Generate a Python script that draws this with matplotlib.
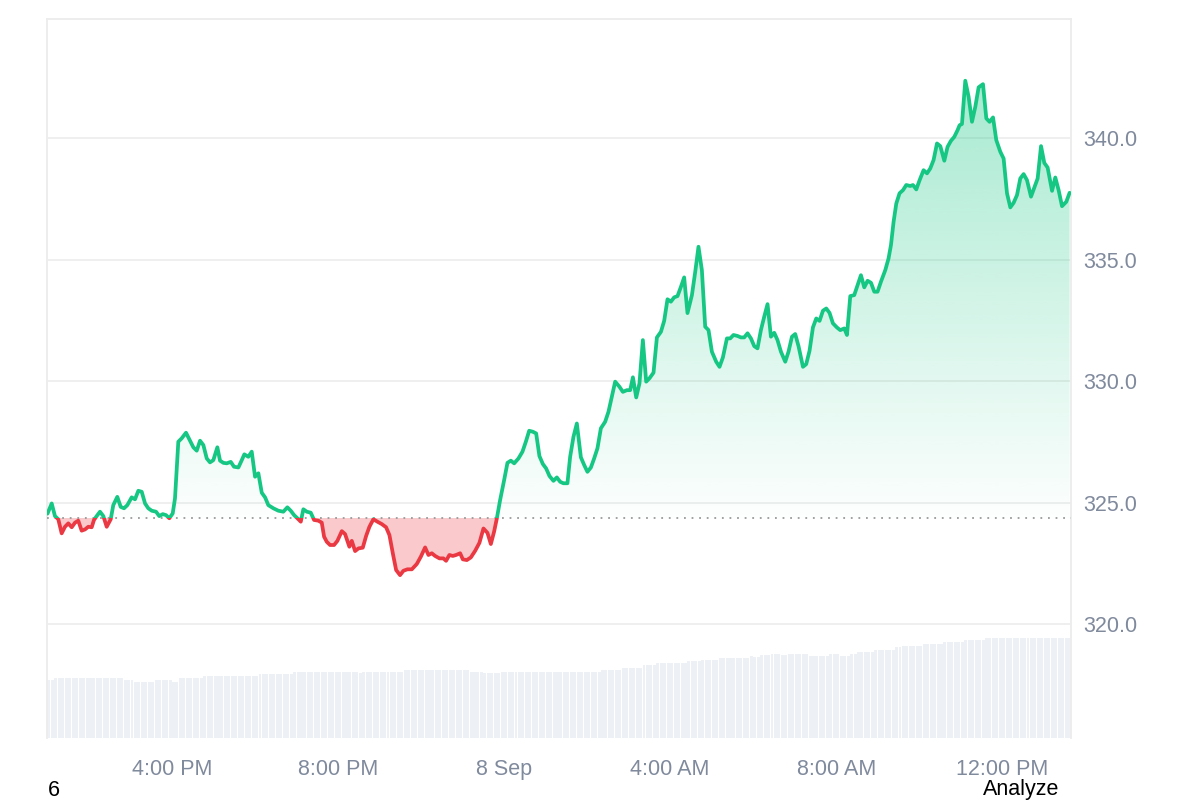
import numpy as np
import matplotlib
matplotlib.use("Agg")
import matplotlib.pyplot as plt
from matplotlib.patches import Rectangle
from matplotlib.colors import to_rgb

plt.rcParams['font.family'] = ['Liberation Sans', 'DejaVu Sans']

# ---------------- data ----------------
# minutes since 7 Sep 13:00
minutes = [
    0.0, 6.1, 10.8, 15.6, 20.5, 25.3, 30.1, 35.0, 39.8, 44.5,
    49.4, 54.2, 59.0, 63.9, 67.2, 71.1, 75.9, 80.7, 85.6, 91.4,
    95.1, 100.9, 105.8, 110.6, 115.4, 121.7, 126.5, 131.3, 136.2, 141.0,
    145.7, 150.7, 156.9, 161.6, 166.6, 171.3, 176.1, 181.0, 184.3, 189.1,
    194.0, 200.2, 206.0, 210.8, 215.7, 220.5, 225.3, 230.2, 234.9, 239.7,
    245.5, 249.4, 254.2, 259.1, 264.9, 269.6, 275.9, 280.8, 284.5, 290.3,
    295.2, 300.0, 304.8, 309.7, 314.5, 319.2, 326.5, 333.7,
    340.9, 346.7, 351.6, 356.4, 361.2, 366.1, 369.8, 374.8, 380.5, 385.3,
    391.5, 396.4, 399.8, 403.7, 408.4, 414.2, 419.0, 425.4, 430.1, 436.3,
    439.8, 444.6, 449.4, 455.7, 460.5, 465.3, 471.0, 476.8, 483.2, 489.4,
    494.2, 499.1, 503.9, 509.6, 514.4, 520.2, 526.6, 533.8, 539.6, 545.8,
    550.6, 555.5, 560.2, 566.5, 572.2, 576.1, 580.9, 585.8, 590.6, 596.4,
    600.3, 606.1, 611.9, 618.1, 624.3, 630.1, 635.9, 640.8, 645.5, 649.5,
    654.2,
    660.0, 664.8, 669.7, 674.5, 680.7, 686.5, 691.4, 696.2, 701.5, 706.3,
    711.0, 716.0, 720.7, 725.5, 731.3, 736.2, 741.0, 745.7, 751.5, 755.4,
    760.2, 765.1, 770.9, 775.7, 780.4, 785.4, 790.1, 794.9, 799.8, 806.0,
    810.8, 815.7, 820.5, 826.7, 831.6, 837.4, 842.2, 846.1, 850.9, 855.6,
    860.5, 865.3, 870.1, 875.9, 880.8, 886.6, 891.3, 896.1, 901.0, 905.8,
    910.6, 915.5, 920.2, 925.0, 931.4, 936.2, 940.9, 945.8, 950.6, 955.4,
    960.3, 966.5, 971.3, 976.2, 982.0, 986.8, 991.5, 997.3, 1002.2, 1007.0,
    1011.8, 1016.7, 1021.5, 1026.2, 1031.1, 1035.9, 1040.7, 1045.6, 1050.4, 1055.1,
    1060.1, 1066.3, 1071.0, 1076.0, 1080.7, 1085.5, 1091.9, 1096.6, 1101.4, 1106.3,
    1111.1, 1115.9, 1120.8, 1125.6, 1130.3, 1135.2, 1141.0, 1145.8, 1151.6, 1155.5,
    1160.3, 1166.0, 1170.8, 1175.7, 1180.5, 1185.3, 1190.2, 1195.0, 1199.7, 1204.6,
    1210.9, 1215.6, 1219.1, 1222.9, 1226.8, 1231.5, 1236.5, 1241.2, 1247.0, 1250.9,
    1255.7, 1260.5, 1266.2, 1271.2, 1275.9, 1280.7, 1285.6, 1290.4, 1296.2, 1300.9,
    1305.8, 1310.6, 1315.4, 1318.3, 1321.7, 1326.5, 1331.3, 1336.2, 1341.0, 1345.8,
    1352.1, 1356.9, 1361.6, 1366.6, 1371.3, 1377.1, 1381.9, 1386.8, 1391.6, 1396.4,
    1401.3, 1406.0, 1410.8, 1415.7, 1421.5, 1426.3, 1431.1, 1436.0, 1440.7, 1445.5,
    1451.9, 1456.6, 1461.4, 1466.3, 1472.5, 1477.3,
]
price = [
    324.55, 324.97, 324.45, 324.32, 323.74, 324.01, 324.15, 323.99, 324.18, 324.26,
    323.85, 323.90, 324.01, 323.99, 324.29, 324.45, 324.63, 324.45, 324.01, 324.32,
    324.90, 325.24, 324.83, 324.77, 324.90, 325.22, 325.14, 325.49, 325.45, 324.97,
    324.77, 324.67, 324.63, 324.45, 324.53, 324.49, 324.36, 324.56, 325.18, 327.51,
    327.65, 327.88, 327.55, 327.28, 327.14, 327.55, 327.37, 326.82, 326.66, 326.75,
    327.28, 326.73, 326.64, 326.62, 326.68, 326.48, 326.45, 326.75, 326.99, 326.89,
    327.10, 326.07, 326.21, 325.41, 325.22, 324.90, 324.77, 324.67,
    324.63, 324.81, 324.67, 324.49, 324.36, 324.22, 324.73, 324.63, 324.59, 324.29,
    324.26, 324.18, 323.60, 323.39, 323.26, 323.26, 323.43, 323.83, 323.71, 323.19,
    323.43, 323.01, 323.12, 323.15, 323.63, 324.01, 324.32, 324.22, 324.12, 323.99,
    323.67, 322.92, 322.23, 322.02, 322.20, 322.26, 322.26, 322.48, 322.78, 323.16,
    322.85, 322.92, 322.81, 322.71, 322.71, 322.61, 322.85, 322.81, 322.85, 322.92,
    322.67, 322.64, 322.75, 323.02, 323.35, 323.94, 323.76, 323.30, 323.81, 324.36,
    325.11,
    325.93, 326.64, 326.73, 326.62, 326.82, 327.10, 327.51, 327.96, 327.92, 327.85,
    326.92, 326.59, 326.41, 326.10, 325.90, 326.04, 325.86, 325.80, 325.80, 326.89,
    327.71, 328.26, 326.87, 326.55, 326.27, 326.45, 326.82, 327.24, 328.06, 328.33,
    328.74, 329.36, 329.98, 329.77, 329.56, 329.63, 329.63, 330.16, 329.33, 329.91,
    331.69, 329.98, 330.12, 330.35, 331.80, 332.03, 332.48, 333.37, 333.27, 333.45,
    333.50, 333.88, 334.27, 332.80, 333.54, 334.50, 335.53, 334.57, 332.24, 332.10,
    331.21, 330.80, 330.59, 330.98, 331.76, 331.76, 331.90, 331.86, 331.80, 331.80,
    331.97, 331.76, 331.44, 331.35, 332.10, 332.65, 333.17, 331.83, 331.99, 331.69,
    331.21, 330.80, 331.21, 331.83, 331.94, 331.44, 330.59, 330.70, 331.25, 332.21,
    332.58, 332.48, 332.90, 332.99, 332.81, 332.38, 332.21, 332.10, 332.17, 331.90,
    333.50, 333.54, 333.95, 334.36, 333.86, 334.13, 334.05, 333.68, 333.68, 334.09,
    334.57, 335.05, 335.60, 336.56, 337.31, 337.73, 337.86, 338.07, 338.03, 338.07,
    337.89, 338.27, 338.68, 338.55, 338.75, 339.10, 339.78, 339.67, 339.07, 339.64,
    339.89, 340.05, 340.33, 340.53, 340.58, 342.36, 341.70, 340.67, 341.29, 342.09,
    342.22, 340.81, 340.67, 340.85, 339.92, 339.44, 339.16, 337.73, 337.15, 337.34,
    337.66, 338.34, 338.52, 338.27, 337.59, 337.97, 338.34, 339.67, 338.98, 338.79,
    337.83, 338.38, 337.86, 337.20, 337.38, 337.75,
]
baseline = 324.37

# volume (5-minute bars): level and how many consecutive bars share it
vol_levels = [1.17, 1.21, 1.17, 1.13, 1.17, 1.13, 1.21, 1.25, 1.29, 1.33,
              1.30, 1.33, 1.37, 1.33, 1.30, 1.33,
              1.37, 1.41, 1.46, 1.50, 1.54, 1.57, 1.61, 1.65, 1.62, 1.67,
              1.69, 1.67, 1.69, 1.65, 1.69, 1.65, 1.69, 1.73, 1.77, 1.82,
              1.85, 1.89, 1.93, 1.97, 2.01]
vol_counts = [2, 20, 3, 6, 5, 2, 7, 16, 10, 19,
              1, 12, 19, 4, 5, 29,
              6, 6, 4, 9, 4, 5, 9, 1, 2, 3,
              3, 2, 6, 6, 3, 3, 2, 5, 6, 2,
              6, 6, 6, 6, 25]
vol_step = 5  # minutes per volume bar

y_ticks = [320, 325, 330, 335, 340]
x_ticks = [180, 420, 660, 900, 1140, 1380]
x_labels = ['4:00 PM', '8:00 PM', '8 Sep', '4:00 AM', '8:00 AM', '12:00 PM']

GREEN = '#16c784'
RED = '#ea3943'
TXT = '#808a9d'
FRAME = '#ececec'
GRID = '#efefef'

t = np.array(minutes)
p = np.array(price)
volume = np.repeat(vol_levels, vol_counts)

XMIN, XMAX = -0.7, 1479.3
YMIN, YMAX = 315.32, 344.9

fig = plt.figure(figsize=(12, 8), dpi=100)
rect = [47 / 1200, 62 / 800, (1071 - 47) / 1200, 719 / 800]

# volume pane (behind)
vax = fig.add_axes(rect, zorder=1)
vax.bar(np.arange(len(volume)) * vol_step, volume, width=vol_step * 0.86,
        align='edge', color='#edf0f4', linewidth=0)
vax.set_xlim(XMIN, XMAX)
vax.set_ylim(0, 719 / 50)
vax.axis('off')

# price pane
ax = fig.add_axes(rect, zorder=2)
ax.patch.set_visible(False)

for yv in y_ticks:
    ax.axhline(yv, color=GRID, lw=1.4, zorder=0)

# green gradient fill above baseline
n = 256
rgba = np.zeros((n, 1, 4))
rgba[..., :3] = to_rgb(GREEN)
rgba[..., 3] = np.linspace(0.43, 0.01, n)[:, None]
im = ax.imshow(rgba, extent=[XMIN, XMAX, baseline, YMAX], aspect='auto',
               origin='upper', interpolation='bilinear', zorder=1)
poly = ax.fill_between(t, p, baseline, facecolor='none', edgecolor='none')
im.set_clip_path(poly.get_paths()[0], transform=ax.transData)

# red fill below baseline
ax.fill_between(t, p, baseline, where=p < baseline, interpolate=True,
                color=RED, alpha=0.27, linewidth=0, zorder=1)

# baseline dotted
ax.axhline(baseline, color='#9a9a9a', lw=1.3, linestyle=(0, (1, 3.2)), zorder=3)

# price line, coloured by side of baseline
ln_g, = ax.plot(t, p, color=GREEN, lw=2.7, solid_joinstyle='round',
                solid_capstyle='round', zorder=4)
ln_r, = ax.plot(t, p, color=RED, lw=2.7, solid_joinstyle='round',
                solid_capstyle='round', zorder=4)
clip_up = Rectangle((XMIN, baseline), XMAX - XMIN, YMAX - baseline, transform=ax.transData)
clip_dn = Rectangle((XMIN, YMIN), XMAX - XMIN, baseline - YMIN, transform=ax.transData)
ln_g.set_clip_path(clip_up)
ln_r.set_clip_path(clip_dn)

ax.set_xlim(XMIN, XMAX)
ax.set_ylim(YMIN, YMAX)

for side in ['left', 'top', 'right']:
    ax.spines[side].set_color(FRAME)
    ax.spines[side].set_linewidth(1.3)
ax.spines['bottom'].set_visible(False)

ax.yaxis.tick_right()
ax.set_yticks(y_ticks)
ax.set_yticklabels([f'{v:.1f}' for v in y_ticks])
ax.set_xticks(x_ticks)
ax.set_xticklabels(x_labels)
ax.tick_params(axis='y', length=0, pad=8.5, labelsize=15.5, labelcolor=TXT)
ax.tick_params(axis='x', length=0, pad=15, labelsize=15.5, labelcolor=TXT)

fig.text(48 / 1200, 1 - 795.5 / 800, '6', fontsize=15.5, color='#000000',
         ha='left', va='baseline')
fig.text(982.5 / 1200, 1 - 795.5 / 800, 'Analyze', fontsize=15.5, color='#000000',
         ha='left', va='baseline')

fig.savefig('out.png', dpi=100)
